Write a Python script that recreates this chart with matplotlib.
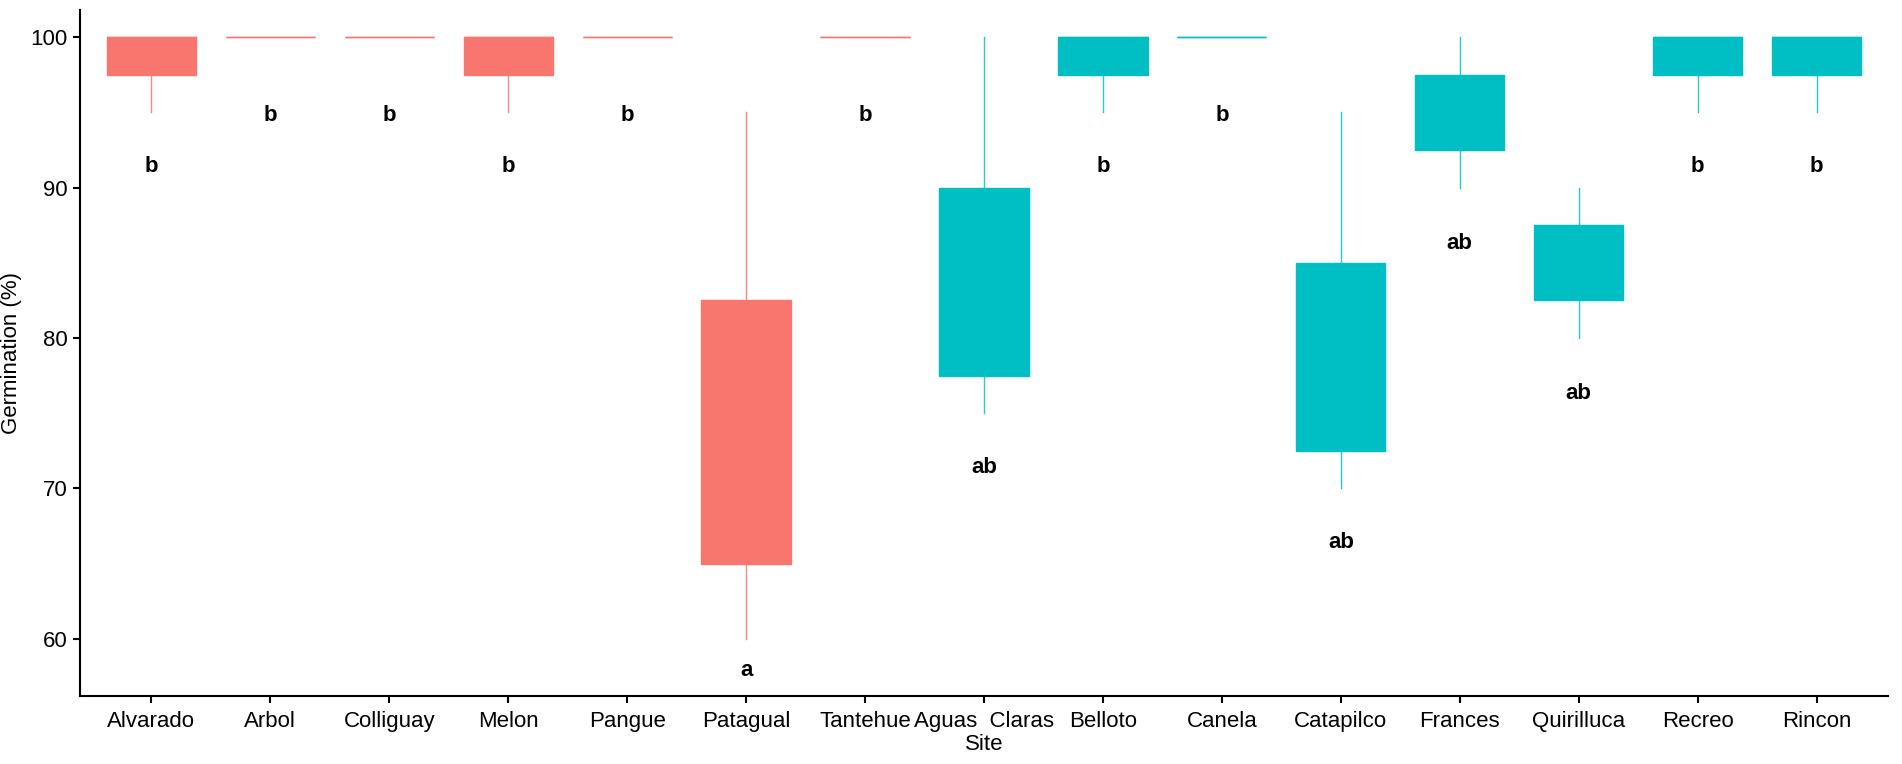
import matplotlib
matplotlib.use("Agg")
import matplotlib.pyplot as plt

plt.rcParams['font.family'] = ['Liberation Sans', 'DejaVu Sans']

sites = ["Alvarado", "Arbol", "Colliguay", "Melon", "Pangue", "Patagual", "Tantehue",
         "Aguas  Claras", "Belloto", "Canela", "Catapilco", "Frances", "Quirilluca",
         "Recreo", "Rincon"]
group = [0, 0, 0, 0, 0, 0, 0, 1, 1, 1, 1, 1, 1, 1, 1]
q1 = [97.5, 100, 100, 97.5, 100, 65, 100, 77.5, 97.5, 100, 72.5, 92.5, 82.5, 97.5, 97.5]
q3 = [100, 100, 100, 100, 100, 82.5, 100, 90, 100, 100, 85, 97.5, 87.5, 100, 100]
med = [100, 100, 100, 100, 100, 75, 100, 85, 100, 100, 80, 95, 85, 100, 100]
wlo = [95, 100, 100, 95, 100, 60, 100, 75, 95, 100, 70, 90, 80, 95, 95]
whi = [100, 100, 100, 100, 100, 95, 100, 100, 100, 100, 95, 100, 90, 100, 100]
letters = ["b", "b", "b", "b", "b", "a", "b", "ab", "b", "b", "ab", "ab", "ab", "b", "b"]
letter_y = [91.4, 94.8, 94.8, 91.4, 94.8, 57.9, 94.8, 71.4, 91.4, 94.8, 66.4, 86.3, 76.3, 91.4, 91.4]
yticks = [60, 70, 80, 90, 100]

colors = ["#F8766D", "#00BFC4"]

fig = plt.figure(figsize=(19.02, 7.64), dpi=100)
ax = fig.add_axes([80/1902, 68/764, (1888-80)/1902, (696-10)/764])

for i, s in enumerate(sites):
    c = colors[group[i]]
    stats = [dict(q1=q1[i], q3=q3[i], med=med[i], whislo=wlo[i], whishi=whi[i], fliers=[], label=s)]
    ax.bxp(stats, positions=[i + 1], widths=0.75, patch_artist=True, showfliers=False,
           showcaps=False,
           boxprops=dict(facecolor=c, edgecolor=c, linewidth=1.0),
           whiskerprops=dict(color=c, linewidth=1.0, alpha=0.85),
           medianprops=dict(color=c, linewidth=1.0))
    ax.text(i + 1, letter_y[i], letters[i], ha="center", va="center",
            fontsize=16, fontweight="bold", color="black")

ax.set_xlim(0.4, 15.6)
ax.set_ylim(56.2, 101.8)
ax.set_xticks(range(1, len(sites) + 1))
ax.set_xticklabels(sites, fontsize=16)
ax.set_yticks(yticks)
ax.set_yticklabels([str(v) for v in yticks], fontsize=16)
ax.spines["top"].set_visible(False)
ax.spines["right"].set_visible(False)
ax.spines["left"].set_linewidth(1.5)
ax.spines["bottom"].set_linewidth(1.5)
ax.tick_params(axis="both", direction="out", length=5, width=1.5, colors="black", pad=4)
ax.tick_params(axis="x", pad=6)
ax.set_xlabel("Site", fontsize=16, labelpad=1)
ax.set_ylabel("Germination (%)", fontsize=16, labelpad=6)

fig.savefig("out.png", dpi=100)
